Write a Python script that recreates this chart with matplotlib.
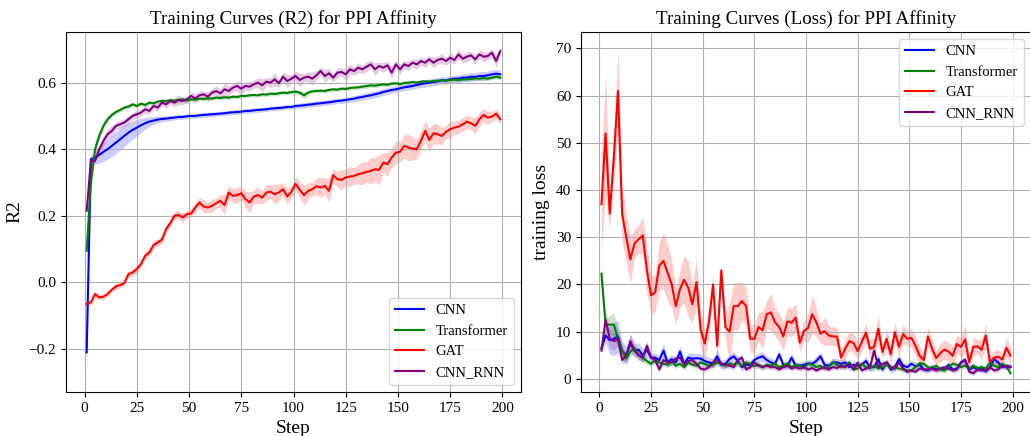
import numpy as np
import matplotlib
matplotlib.use("Agg")
import matplotlib.pyplot as plt

plt.rcParams['font.family'] = ['Liberation Serif', 'DejaVu Serif']

# ---------------- data ----------------
models = ["CNN", "Transformer", "GAT", "CNN_RNN"]
colors = ["blue", "green", "red", "purple"]

cnn_r2 = [-0.21, 0.37, 0.375, 0.383, 0.392, 0.40, 0.41, 0.42, 0.43, 0.44,
          0.45, 0.458, 0.465, 0.472, 0.478, 0.483, 0.486, 0.489, 0.491, 0.492,
          0.494, 0.495, 0.497, 0.497, 0.499, 0.500, 0.500, 0.502, 0.503, 0.504,
          0.505, 0.506, 0.507, 0.508, 0.510, 0.511, 0.512, 0.513, 0.515, 0.515,
          0.517, 0.518, 0.519, 0.520, 0.522, 0.523, 0.524, 0.525, 0.527, 0.527,
          0.530, 0.531, 0.532, 0.534, 0.535, 0.537, 0.538, 0.540, 0.541, 0.543,
          0.545, 0.546, 0.548, 0.550, 0.552, 0.555, 0.557, 0.560, 0.562, 0.565,
          0.568, 0.572, 0.575, 0.578, 0.580, 0.583, 0.586, 0.588, 0.590, 0.593,
          0.596, 0.598, 0.600, 0.602, 0.604, 0.607, 0.607, 0.610, 0.612, 0.612,
          0.615, 0.615, 0.618, 0.617, 0.620, 0.620, 0.622, 0.625, 0.627, 0.625]
cnn_r2_sd = [0.07, 0.012, 0.02, 0.025, 0.028, 0.03, 0.032, 0.033, 0.033, 0.032,
             0.03, 0.028, 0.025, 0.022, 0.018, 0.015, 0.012, 0.010, 0.009, 0.008,
             0.008, 0.007, 0.007, 0.007, 0.007, 0.007, 0.007, 0.007, 0.007, 0.007,
             0.007, 0.007, 0.007, 0.007, 0.007, 0.007, 0.007, 0.007, 0.007, 0.007,
             0.007, 0.007, 0.007, 0.007, 0.007, 0.007, 0.007, 0.007, 0.007, 0.007,
             0.008, 0.008, 0.008, 0.008, 0.008, 0.008, 0.008, 0.008, 0.008, 0.008,
             0.008, 0.008, 0.009, 0.009, 0.009, 0.010, 0.010, 0.010, 0.010, 0.010,
             0.010, 0.010, 0.010, 0.010, 0.010, 0.010, 0.010, 0.010, 0.010, 0.010,
             0.011, 0.011, 0.011, 0.011, 0.011, 0.011, 0.011, 0.011, 0.011, 0.011,
             0.012, 0.012, 0.012, 0.012, 0.013, 0.013, 0.013, 0.013, 0.013, 0.013]

tf_r2 = [0.095, 0.30, 0.40, 0.44, 0.47, 0.49, 0.503, 0.512, 0.518, 0.525,
         0.528, 0.535, 0.530, 0.537, 0.533, 0.540, 0.538, 0.543, 0.545, 0.545,
         0.547, 0.546, 0.548, 0.550, 0.546, 0.550, 0.549, 0.552, 0.551, 0.553,
         0.552, 0.555, 0.554, 0.556, 0.555, 0.558, 0.557, 0.560, 0.560, 0.562,
         0.563, 0.562, 0.565, 0.564, 0.567, 0.566, 0.568, 0.570, 0.569, 0.572,
         0.573, 0.570, 0.562, 0.570, 0.574, 0.575, 0.576, 0.575, 0.578, 0.580,
         0.579, 0.582, 0.581, 0.584, 0.585, 0.586, 0.588, 0.590, 0.592, 0.591,
         0.593, 0.595, 0.594, 0.597, 0.598, 0.596, 0.599, 0.600, 0.602, 0.600,
         0.603, 0.604, 0.603, 0.605, 0.606, 0.607, 0.606, 0.608, 0.609, 0.608,
         0.610, 0.610, 0.611, 0.613, 0.612, 0.614, 0.612, 0.615, 0.618, 0.615]
tf_r2_sd = [0.03, 0.03, 0.02, 0.012, 0.010, 0.008, 0.007, 0.007, 0.006, 0.006,
            0.006, 0.006, 0.006, 0.006, 0.006, 0.006, 0.006, 0.006, 0.006, 0.006,
            0.006, 0.008, 0.008, 0.006, 0.010, 0.006, 0.006, 0.006, 0.006, 0.006,
            0.006, 0.006, 0.006, 0.006, 0.006, 0.006, 0.006, 0.006, 0.006, 0.006,
            0.006, 0.006, 0.006, 0.006, 0.006, 0.006, 0.006, 0.006, 0.006, 0.006,
            0.006, 0.008, 0.010, 0.008, 0.006, 0.006, 0.006, 0.006, 0.006, 0.006,
            0.006, 0.006, 0.006, 0.006, 0.006, 0.006, 0.006, 0.006, 0.006, 0.006,
            0.006, 0.006, 0.006, 0.006, 0.006, 0.006, 0.006, 0.006, 0.006, 0.006,
            0.006, 0.006, 0.006, 0.006, 0.006, 0.006, 0.006, 0.006, 0.006, 0.006,
            0.006, 0.006, 0.006, 0.006, 0.006, 0.006, 0.006, 0.006, 0.006, 0.006]

gat_r2 = [-0.065, -0.060, -0.035, -0.045, -0.043, -0.035, -0.022, -0.012, -0.008, -0.002,
          0.025, 0.030, 0.040, 0.055, 0.080, 0.090, 0.112, 0.120, 0.128, 0.160,
          0.178, 0.200, 0.203, 0.195, 0.205, 0.207, 0.225, 0.240, 0.228, 0.225,
          0.230, 0.238, 0.245, 0.232, 0.270, 0.260, 0.262, 0.268, 0.250, 0.240,
          0.258, 0.262, 0.255, 0.270, 0.272, 0.265, 0.270, 0.280, 0.258, 0.272,
          0.296, 0.278, 0.262, 0.275, 0.280, 0.289, 0.285, 0.290, 0.275, 0.322,
          0.310, 0.308, 0.315, 0.318, 0.320, 0.325, 0.328, 0.332, 0.335, 0.340,
          0.338, 0.360, 0.355, 0.375, 0.390, 0.392, 0.410, 0.405, 0.402, 0.400,
          0.425, 0.455, 0.428, 0.448, 0.445, 0.440, 0.452, 0.460, 0.465, 0.468,
          0.475, 0.483, 0.478, 0.470, 0.490, 0.503, 0.495, 0.498, 0.507, 0.490]
gat_r2_sd = [0.008, 0.008, 0.010, 0.008, 0.008, 0.008, 0.008, 0.010, 0.008, 0.008,
             0.010, 0.010, 0.012, 0.010, 0.012, 0.010, 0.012, 0.010, 0.012, 0.012,
             0.010, 0.012, 0.012, 0.015, 0.012, 0.012, 0.015, 0.015, 0.020, 0.015,
             0.020, 0.015, 0.020, 0.030, 0.020, 0.020, 0.025, 0.020, 0.025, 0.030,
             0.020, 0.025, 0.020, 0.025, 0.020, 0.030, 0.025, 0.020, 0.025, 0.020,
             0.020, 0.025, 0.030, 0.025, 0.020, 0.025, 0.030, 0.025, 0.035, 0.020,
             0.025, 0.030, 0.025, 0.030, 0.025, 0.030, 0.035, 0.030, 0.040, 0.035,
             0.045, 0.030, 0.035, 0.030, 0.035, 0.030, 0.035, 0.040, 0.035, 0.030,
             0.030, 0.030, 0.035, 0.030, 0.030, 0.025, 0.020, 0.025, 0.020, 0.020,
             0.020, 0.020, 0.020, 0.025, 0.020, 0.020, 0.020, 0.015, 0.015, 0.015]

rnn_r2 = [0.215, 0.365, 0.365, 0.400, 0.425, 0.445, 0.455, 0.470, 0.475, 0.480,
          0.490, 0.500, 0.505, 0.510, 0.520, 0.515, 0.530, 0.525, 0.540, 0.535,
          0.545, 0.540, 0.548, 0.545, 0.550, 0.560, 0.553, 0.562, 0.565, 0.558,
          0.570, 0.575, 0.568, 0.580, 0.575, 0.585, 0.590, 0.582, 0.590, 0.588,
          0.595, 0.600, 0.592, 0.603, 0.600, 0.610, 0.598, 0.618, 0.605, 0.612,
          0.620, 0.608, 0.615, 0.618, 0.612, 0.622, 0.635, 0.620, 0.628, 0.615,
          0.630, 0.632, 0.625, 0.640, 0.635, 0.645, 0.640, 0.648, 0.655, 0.640,
          0.650, 0.645, 0.652, 0.630, 0.655, 0.640, 0.655, 0.650, 0.660, 0.655,
          0.665, 0.660, 0.670, 0.660, 0.668, 0.672, 0.665, 0.675, 0.668, 0.685,
          0.672, 0.678, 0.682, 0.670, 0.685, 0.678, 0.680, 0.690, 0.665, 0.695]
rnn_r2_sd = [0.005, 0.005, 0.005, 0.012, 0.015, 0.015, 0.015, 0.012, 0.012, 0.012,
             0.012, 0.010, 0.012, 0.010, 0.012, 0.010, 0.010, 0.012, 0.010, 0.012,
             0.010, 0.012, 0.015, 0.012, 0.010, 0.012, 0.015, 0.012, 0.010, 0.015,
             0.012, 0.015, 0.012, 0.020, 0.015, 0.012, 0.015, 0.020, 0.012, 0.015,
             0.012, 0.015, 0.020, 0.012, 0.015, 0.020, 0.012, 0.015, 0.020, 0.012,
             0.015, 0.020, 0.012, 0.015, 0.020, 0.015, 0.012, 0.020, 0.015, 0.012,
             0.015, 0.012, 0.020, 0.015, 0.012, 0.015, 0.012, 0.015, 0.012, 0.020,
             0.012, 0.015, 0.012, 0.020, 0.012, 0.015, 0.012, 0.015, 0.012, 0.015,
             0.012, 0.015, 0.012, 0.015, 0.012, 0.015, 0.012, 0.015, 0.012, 0.015,
             0.012, 0.015, 0.012, 0.015, 0.012, 0.015, 0.012, 0.012, 0.020, 0.008]

cnn_loss = [6.5, 9.2, 8.2, 8.5, 9.0, 6.0, 5.0, 7.5, 6.0, 6.2,
            5.0, 6.2, 4.5, 4.5, 4.0, 6.0, 3.5, 4.2, 3.5, 5.8,
            3.2, 4.5, 4.3, 4.4, 4.3, 3.8, 3.5, 3.3, 4.8, 3.0,
            3.2, 4.2, 4.8, 3.8, 2.5, 3.0, 3.0, 4.0, 4.5, 4.8,
            4.0, 3.5, 3.2, 5.2, 3.0, 2.7, 4.5, 2.8, 2.8, 3.0,
            3.3, 3.2, 3.8, 4.8, 3.0, 2.8, 3.5, 3.5, 3.2, 3.5,
            2.5, 3.0, 2.8, 3.0, 3.8, 2.5, 2.5, 4.2, 2.0, 3.5,
            2.0, 2.5, 4.2, 2.8, 2.5, 3.2, 2.7, 3.0, 2.0, 1.8,
            2.5, 2.0, 2.2, 2.0, 3.0, 2.0, 2.2, 3.5, 4.0, 2.0,
            2.5, 2.0, 2.3, 1.6, 2.4, 4.2, 3.5, 2.5, 2.8, 2.6]
cnn_loss_sd = [1.0, 1.5, 3.0, 3.5, 3.5, 2.0, 2.0, 2.0, 1.5, 1.5,
               1.5, 1.5, 1.0, 1.0, 1.0, 1.5, 1.0, 1.0, 1.0, 1.2,
               1.0, 1.0, 1.2, 1.0, 1.0, 1.2, 1.0, 1.0, 1.5, 1.0,
               1.0, 1.0, 1.0, 1.0, 0.8, 0.8, 0.8, 1.0, 1.0, 1.0,
               0.8, 1.0, 0.8, 1.0, 0.8, 0.8, 1.0, 0.8, 0.8, 0.8,
               0.8, 0.8, 1.0, 1.0, 0.8, 0.8, 1.0, 0.8, 0.8, 0.8,
               0.8, 0.8, 0.8, 0.8, 1.0, 0.8, 0.8, 1.0, 0.8, 0.8,
               0.8, 0.8, 1.0, 0.8, 0.8, 0.8, 0.8, 0.8, 0.6, 0.6,
               0.8, 0.6, 0.6, 0.6, 0.8, 0.6, 0.6, 0.8, 0.8, 0.6,
               0.8, 0.6, 0.6, 0.6, 0.6, 0.8, 0.8, 0.6, 0.6, 0.6]

tf_loss = [22.3, 11.5, 11.5, 11.5, 8.5, 6.0, 4.3, 5.8, 6.5, 5.0,
           4.5, 3.8, 3.2, 4.0, 3.5, 3.2, 3.0, 3.8, 2.8, 3.2,
           2.5, 3.5, 3.0, 2.8, 3.5, 3.2, 2.8, 3.0, 3.5, 3.2,
           2.8, 3.3, 3.0, 3.5, 2.8, 3.5, 3.2, 2.7, 3.0, 2.5,
           3.0, 2.8, 3.2, 2.5, 2.8, 3.3, 2.5, 3.0, 2.8, 2.4,
           3.2, 3.0, 2.5, 2.8, 2.2, 2.5, 3.5, 3.0, 2.5, 2.8,
           3.5, 2.0, 2.2, 3.2, 2.5, 2.3, 2.8, 2.2, 2.5, 3.0,
           2.3, 2.5, 2.2, 2.0, 1.8, 1.8, 2.5, 3.3, 3.2, 2.5,
           2.2, 2.8, 2.0, 1.8, 2.5, 3.2, 3.0, 2.5, 2.8, 2.2,
           2.8, 2.3, 2.5, 2.2, 3.5, 2.8, 2.5, 3.2, 2.6, 1.2]
tf_loss_sd = [3.0, 1.0, 2.0, 2.5, 2.0, 1.5, 1.0, 1.0, 1.0, 1.0,
              0.8, 0.8, 0.6, 0.8, 0.6, 0.6, 0.6, 0.8, 0.6, 0.6,
              0.6, 0.6, 0.6, 0.6, 0.8, 0.6, 0.6, 0.6, 0.8, 0.6,
              0.6, 0.6, 0.6, 0.8, 0.6, 0.8, 0.6, 0.6, 0.6, 0.6,
              0.6, 0.6, 0.6, 0.6, 0.6, 0.6, 0.6, 0.6, 0.6, 0.6,
              0.6, 0.6, 0.6, 0.6, 0.6, 0.6, 0.8, 0.6, 0.6, 0.6,
              0.8, 0.6, 0.6, 0.6, 0.6, 0.6, 0.6, 0.6, 0.6, 0.6,
              0.6, 0.6, 0.6, 0.6, 0.5, 0.5, 0.6, 0.6, 0.6, 0.6,
              0.6, 0.6, 0.5, 0.5, 0.6, 0.6, 0.6, 0.6, 0.6, 0.6,
              0.6, 0.6, 0.6, 0.6, 0.6, 0.6, 0.6, 0.6, 0.6, 0.4]

gat_loss = [37.0, 52.0, 35.0, 47.0, 61.0, 35.0, 30.0, 25.3, 28.7, 29.6,
            30.4, 23.0, 17.7, 18.3, 24.0, 25.0, 22.5, 20.0, 15.4, 19.0,
            21.0, 19.3, 15.8, 20.5, 10.5, 7.5, 12.0, 20.0, 7.0, 23.0,
            11.0, 10.0, 15.4, 15.4, 16.5, 15.4, 8.5, 8.5, 11.0, 10.3,
            13.7, 14.1, 12.0, 11.0, 9.0, 12.2, 11.9, 13.0, 7.7, 10.1,
            10.8, 13.7, 12.0, 9.6, 10.1, 9.2, 9.0, 9.0, 4.5, 6.4,
            8.0, 7.6, 5.9, 7.8, 9.8, 6.4, 6.8, 10.6, 5.7, 8.5,
            5.2, 9.9, 6.8, 9.5, 8.5, 8.7, 7.0, 4.9, 4.0, 9.0,
            6.4, 4.4, 5.5, 6.2, 5.8, 4.9, 7.4, 6.8, 8.4, 3.5,
            6.8, 6.9, 6.2, 9.2, 3.6, 4.5, 4.7, 4.1, 6.6, 4.9]
gat_loss_sd = [10.0, 13.0, 3.0, 5.0, 9.0, 6.0, 5.0, 5.0, 3.0, 3.0,
               4.0, 5.0, 4.0, 4.0, 5.0, 6.0, 6.0, 5.0, 4.0, 4.0,
               5.0, 6.0, 4.0, 5.0, 4.0, 3.0, 3.0, 2.0, 4.0, 1.0,
               3.0, 6.0, 5.0, 5.0, 4.0, 4.0, 3.0, 3.0, 3.0, 4.0,
               3.0, 4.0, 3.0, 3.0, 3.0, 3.0, 3.0, 3.0, 2.0, 2.0,
               3.0, 4.0, 3.0, 2.0, 3.0, 2.0, 2.0, 2.0, 1.5, 2.0,
               2.0, 2.0, 2.0, 2.0, 2.0, 2.0, 2.0, 3.0, 1.5, 2.0,
               2.0, 2.0, 2.0, 2.0, 1.5, 2.0, 2.0, 2.0, 1.5, 2.0,
               2.0, 1.5, 2.0, 2.0, 2.0, 2.0, 2.0, 2.0, 3.0, 1.5,
               2.0, 1.5, 2.0, 2.5, 1.5, 1.5, 1.5, 1.5, 2.0, 2.0]

rnn_loss = [6.0, 12.5, 8.5, 8.0, 8.5, 4.0, 5.0, 8.0, 6.0, 5.0,
            4.5, 7.0, 4.5, 4.0, 2.0, 4.0, 3.5, 3.5, 4.3, 4.5,
            3.0, 3.8, 4.0, 3.2, 2.2, 2.0, 2.5, 3.5, 4.0, 3.2,
            3.0, 2.8, 2.5, 4.0, 4.5, 2.0, 2.5, 3.5, 2.8, 2.5,
            2.8, 2.5, 2.5, 2.0, 2.5, 2.8, 2.2, 2.5, 2.2, 2.5,
            2.0, 2.3, 1.8, 2.2, 2.5, 2.0, 2.5, 2.3, 2.8, 2.5,
            3.2, 2.0, 3.5, 1.8, 2.2, 2.5, 6.0, 2.5, 3.2, 3.5,
            2.5, 2.2, 3.5, 2.2, 1.5, 1.8, 1.5, 2.2, 2.0, 2.0,
            2.2, 1.8, 2.2, 2.5, 2.2, 1.8, 2.0, 3.5, 4.0, 1.5,
            1.2, 2.0, 1.8, 1.8, 2.5, 1.8, 2.0, 2.8, 2.5, 2.5]
rnn_loss_sd = [0.5, 2.5, 2.0, 2.0, 1.5, 1.0, 1.0, 1.5, 1.0, 1.0,
               1.0, 1.0, 0.8, 0.8, 0.6, 0.8, 0.8, 0.8, 0.8, 0.8,
               0.8, 0.8, 0.8, 0.6, 0.6, 0.6, 0.6, 0.8, 0.8, 0.6,
               0.6, 0.6, 0.6, 0.8, 0.8, 0.6, 0.6, 0.6, 0.6, 0.6,
               0.6, 0.6, 0.6, 0.5, 0.6, 0.6, 0.5, 0.6, 0.5, 0.6,
               0.5, 0.5, 0.5, 0.5, 0.6, 0.5, 0.6, 0.5, 0.6, 0.6,
               0.6, 0.5, 0.6, 0.5, 0.5, 0.6, 0.8, 0.6, 0.6, 0.6,
               0.6, 0.5, 0.6, 0.5, 0.5, 0.5, 0.5, 0.5, 0.5, 0.5,
               0.5, 0.5, 0.5, 0.5, 0.5, 0.5, 0.5, 0.6, 0.6, 0.5,
               0.5, 0.5, 0.5, 0.5, 0.5, 0.5, 0.5, 0.5, 0.5, 0.5]

r2_means = [cnn_r2, tf_r2, gat_r2, rnn_r2]
r2_sds = [cnn_r2_sd, tf_r2_sd, gat_r2_sd, rnn_r2_sd]
loss_means = [cnn_loss, tf_loss, gat_loss, rnn_loss]
loss_sds = [cnn_loss_sd, tf_loss_sd, gat_loss_sd, rnn_loss_sd]

steps = np.arange(1, 2 * len(cnn_r2), 2)

# ---------------- plot ----------------
fig = plt.figure(figsize=(10.30, 4.36), dpi=100)
ax1 = fig.add_axes([66 / 1030, 44 / 436, 455 / 1030, 360 / 436])
ax2 = fig.add_axes([581 / 1030, 44 / 436, 450 / 1030, 360 / 436])

for ax, means, sds in [(ax1, r2_means, r2_sds), (ax2, loss_means, loss_sds)]:
    for name, c, m, s in zip(models, colors, means, sds):
        m = np.asarray(m)
        s = np.asarray(s)
        ax.plot(steps, m, color=c, lw=1.5, label=name)
        ax.fill_between(steps, m - s, m + s, color=c, alpha=0.2, linewidth=0)
    ax.grid(True, color='#b0b0b0', linewidth=0.8)
    ax.set_xlabel("Step", fontsize=14)
    ax.tick_params(labelsize=11)
    ax.set_xticks([0, 25, 50, 75, 100, 125, 150, 175, 200])

ax1.set_title("Training Curves (R2) for PPI Affinity", fontsize=13.7)
ax1.set_ylabel("R2", fontsize=14)
ax1.legend(loc="lower right", fontsize=10.5)

ax2.set_title("Training Curves (Loss) for PPI Affinity", fontsize=13.7)
ax2.set_ylabel("training loss", fontsize=14)
ax2.set_yticks([0, 10, 20, 30, 40, 50, 60, 70])
ax2.legend(loc="upper right", fontsize=10.5)

fig.savefig("out.png", dpi=100)
